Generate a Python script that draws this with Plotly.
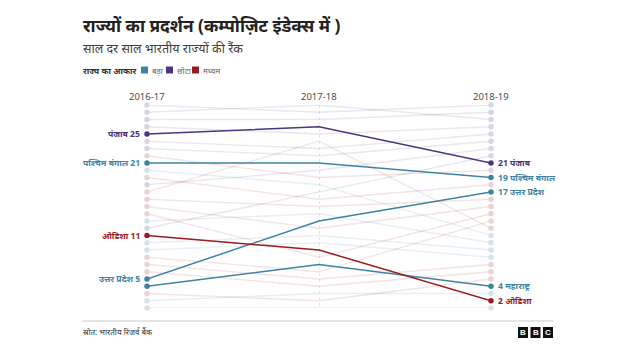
import plotly.graph_objects as go

years = ["2016-17", "2017-18", "2018-19"]

# state name, size group, ranks per year
states = ["पंजाब", "पश्चिम बंगाल", "उत्तर प्रदेश", "महाराष्ट्र", "ओडिशा",
          "P1", "P2", "P3", "P4", "P5", "P6", "P7", "P8",
          "T1", "T2", "T3", "T4", "T5", "T6",
          "R1", "R2", "R3", "R4", "R5", "R6", "R7", "R8", "R9", "R10"]
size = ["small", "big", "big", "big", "medium",
        "small", "small", "small", "small", "small", "small", "small", "small",
        "big", "big", "big", "big", "big", "big",
        "medium", "medium", "medium", "medium", "medium", "medium", "medium", "medium", "medium", "medium"]
rank_2016 = [25, 21, 5, 4, 11,
             29, 28, 27, 26, 24, 23, 18, 12,
             20, 13, 10, 9, 2, 1,
             22, 19, 17, 16, 15, 14, 8, 7, 6, 3]
rank_2017 = [26, 21, 13, 7, 9,
             28, 29, 27, 25, 23, 22, 20, 17,
             18, 14, 11, 10, 3, 1,
             19, 16, 24, 15, 12, 8, 6, 5, 4, 2]
rank_2018 = [21, 19, 17, 4, 2,
             29, 27, 28, 26, 25, 24, 23, 22,
             11, 10, 9, 8, 3, 1,
             20, 18, 12, 16, 15, 14, 13, 7, 6, 5]
highlight = [True, True, True, True, True] + [False] * 24
label_left = [True, True, True, False, True] + [False] * 24

legend_keys = ["big", "small", "medium"]
legend_labels = ["बड़ा", "छोटा", "मध्यम"]

strong = {"big": "#3d84a3", "small": "#4a367f", "medium": "#9a1b1e"}
faint_line = {"big": "rgba(61,132,163,0.13)", "small": "rgba(74,54,127,0.12)", "medium": "rgba(154,27,30,0.12)"}
faint_dot = {"big": "#d3e3ea", "small": "#d8d5e2", "medium": "#ebd3d5"}

FONT = "Noto Sans, Lato, sans-serif"
fig = go.Figure()

xs = [0, 1, 2]
order = [i for i in range(len(states)) if not highlight[i]] + [i for i in range(len(states)) if highlight[i]]
for i in order:
    ys = [rank_2016[i], rank_2017[i], rank_2018[i]]
    s = size[i]
    if highlight[i]:
        lc, mc, w = strong[s], strong[s], 1.5
    else:
        lc, mc, w = faint_line[s], faint_dot[s], 1.3
    fig.add_trace(go.Scatter(x=xs, y=ys, mode="lines", line=dict(color=lc, width=w),
                             hoverinfo="skip", showlegend=False, cliponaxis=False))
    fig.add_trace(go.Scatter(x=[0, 2], y=[ys[0], ys[2]], mode="markers",
                             marker=dict(color=mc, size=5.5), showlegend=False,
                             cliponaxis=False, hovertext=states[i]))

annotations = []
for i in range(len(states)):
    if not highlight[i]:
        continue
    c = strong[size[i]]
    if label_left[i]:
        annotations.append(dict(x=0, y=rank_2016[i], xref="x", yref="y", xanchor="right",
                                xshift=-5, text=f"<b>{states[i]} {rank_2016[i]}</b>",
                                showarrow=False, font=dict(size=8.6, color=c, family=FONT)))
    annotations.append(dict(x=2, y=rank_2018[i], xref="x", yref="y", xanchor="left",
                            xshift=5, text=f"<b>{rank_2018[i]} {states[i]}</b>",
                            showarrow=False, font=dict(size=8.6, color=c, family=FONT)))

for k, yr in enumerate(years):
    annotations.append(dict(x=k, y=1.085, xref="x", yref="paper", text=yr, showarrow=False,
                            font=dict(size=9.5, color="#4a4a4a", family=FONT)))

W, H = 640, 360
L, R, T, B = 147, 149, 105, 52

def px(xp):
    return (xp - L) / (W - L - R)

def py(yp):
    return (H - B - yp) / (H - T - B)

annotations.append(dict(x=px(81), y=py(26), xref="paper", yref="paper", xanchor="left", yanchor="middle",
                        text="<b>राज्यों का प्रदर्शन (कम्पोज़िट इंडेक्स में )</b>", showarrow=False,
                        font=dict(size=17.3, color="#222222", family=FONT)))
annotations.append(dict(x=px(81), y=py(49), xref="paper", yref="paper", xanchor="left", yanchor="middle",
                        text="साल दर साल भारतीय राज्यों की रैंक", showarrow=False,
                        font=dict(size=12.5, color="#404040", family=FONT)))
annotations.append(dict(x=px(81), y=py(70), xref="paper", yref="paper", xanchor="left", yanchor="middle",
                        text="<b>राज्य का आकार</b>", showarrow=False,
                        font=dict(size=8.5, color="#333333", family=FONT)))

shapes = []
lx = 141
for key, lab in zip(legend_keys, legend_labels):
    shapes.append(dict(type="rect", xref="paper", yref="paper", x0=px(lx), x1=px(lx + 7),
                       y0=py(73.5), y1=py(66.5), fillcolor=strong[key], line=dict(width=0)))
    annotations.append(dict(x=px(lx + 8.5), y=py(70), xref="paper", yref="paper", xanchor="left",
                            yanchor="middle", text=lab, showarrow=False,
                            font=dict(size=8, color="#666666", family=FONT)))
    lx += 25 if key != "small" else 26

# footer
shapes.append(dict(type="line", xref="paper", yref="paper", x0=px(82), x1=px(553), y0=py(321), y1=py(321),
                   line=dict(color="#cccccc", width=1)))
annotations.append(dict(x=px(81), y=py(331), xref="paper", yref="paper", xanchor="left", yanchor="middle",
                        text="स्रोत: भारतीय रिजर्व बैंक", showarrow=False,
                        font=dict(size=8, color="#333333", family=FONT)))
for j, letter in enumerate(["B", "B", "C"]):
    x0 = 518 + j * 12.5
    shapes.append(dict(type="rect", xref="paper", yref="paper", x0=px(x0), x1=px(x0 + 10),
                       y0=py(338), y1=py(327), fillcolor="#111111", line=dict(width=0)))
    annotations.append(dict(x=px(x0 + 5), y=py(332.5), xref="paper", yref="paper", xanchor="center",
                            yanchor="middle", text=f"<b>{letter}</b>", showarrow=False,
                            font=dict(size=8, color="#ffffff", family="Liberation Sans, Arial")))

fig.update_layout(
    width=W, height=H,
    margin=dict(l=L, r=R, t=T, b=B),
    paper_bgcolor="white", plot_bgcolor="white",
    xaxis=dict(range=[0, 2], showgrid=True, gridcolor="#e6e6e6", griddash="dot", gridwidth=1,
               tickvals=[0, 1, 2], showticklabels=False, zeroline=False, showline=False, fixedrange=True),
    yaxis=dict(range=[1, 29], showgrid=False, showticklabels=False, zeroline=False, showline=False),
    annotations=annotations,
    shapes=shapes,
    showlegend=False,
)

fig.write_html("out.html", config={"displayModeBar": False},
               post_script="document.body.style.margin='0';document.body.style.overflow='hidden';")
